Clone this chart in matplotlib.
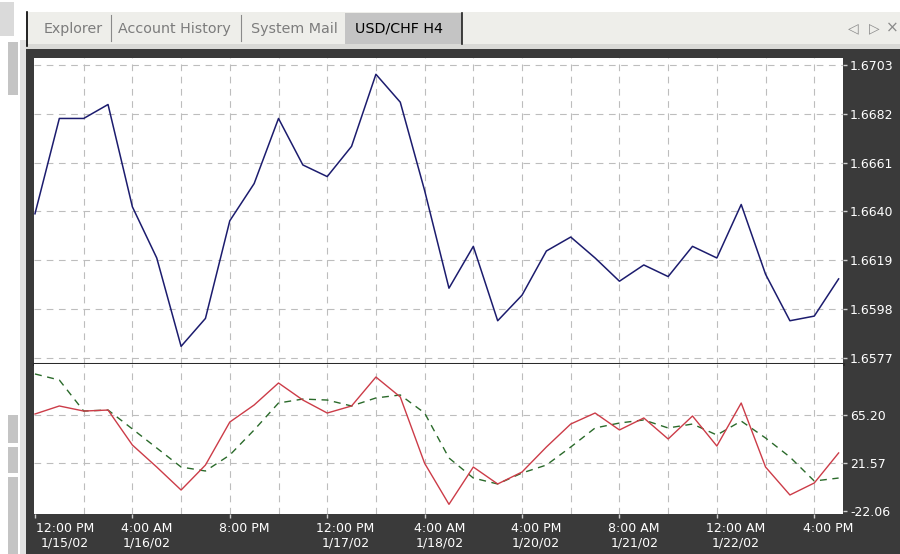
import matplotlib
matplotlib.use("Agg")
import matplotlib.pyplot as plt
from matplotlib.patches import Rectangle
from matplotlib.lines import Line2D

# ---- data ----
close = [1.6639, 1.6680, 1.6680, 1.6686, 1.6642, 1.6620, 1.6582, 1.6594, 1.6636, 1.6652,
         1.6680, 1.6660, 1.6655, 1.6668, 1.6699, 1.6687, 1.6649, 1.6607, 1.6625, 1.6593,
         1.6604, 1.6623, 1.6629, 1.6620, 1.6610, 1.6617, 1.6612, 1.6625, 1.6620, 1.6643,
         1.6613, 1.6593, 1.6595, 1.6611]
osc_main = [66.1, 73.4, 68.8, 69.7, 37.9, 17.9, -3.0, 19.7, 58.8, 74.3,
            94.3, 78.8, 67.0, 73.4, 99.7, 81.6, 21.3, -16.0, 17.9, 2.5,
            13.4, 36.1, 57.0, 67.0, 51.6, 62.5, 43.4, 64.3, 37.0, 76.1,
            17.9, -7.5, 3.4, 30.7]
osc_signal = [102.5, 97.0, 68.8, 69.7, 52.5, 35.2, 17.9, 14.3, 28.8, 51.6,
              76.1, 79.7, 78.8, 73.4, 80.7, 83.4, 67.0, 26.1, 7.9, 2.5,
              12.5, 19.7, 36.1, 53.4, 57.9, 60.7, 53.4, 57.0, 47.0, 59.7,
              44.3, 27.0, 5.2, 7.9]

price_ticks = [1.6577, 1.6598, 1.6619, 1.6640, 1.6661, 1.6682, 1.6703]
osc_ticks = [-22.06, 21.57, 65.20]
label_bars = [0, 4, 8, 12, 16, 20, 24, 28, 32]
time_labels = ["12:00 PM\n1/15/02", "4:00 AM\n1/16/02", "8:00 PM", "12:00 PM\n1/17/02",
               "4:00 AM\n1/18/02", "4:00 PM\n1/20/02", "8:00 AM\n1/21/02",
               "12:00 AM\n1/22/02", "4:00 PM"]
tab_names = ["Explorer", "Account History", "System Mail"]
active_tab = "USD/CHF H4"

W, H = 900, 554
FRAME = "#3a3a3a"
GRID = "#bdbdbd"
plt.rcParams['font.family'] = ['DejaVu Sans']

fig = plt.figure(figsize=(W / 100, H / 100), dpi=100)
fig.patch.set_facecolor("white")


def box(x0, y0, x1, y1, color, z=-5):
    # rectangle in screen pixels (top-left origin)
    fig.add_artist(Rectangle((x0 / W, 1 - y1 / H), (x1 - x0) / W, (y1 - y0) / H,
                             transform=fig.transFigure, facecolor=color,
                             edgecolor="none", zorder=z))


def vline(x, y0, y1, color, lw=1.0):
    fig.add_artist(Line2D([x / W, x / W], [1 - y0 / H, 1 - y1 / H],
                          transform=fig.transFigure, color=color, lw=lw, zorder=-4))


# window chrome
box(26, 12, 900, 44, "#eeeeea")
box(26, 44, 900, 49, "#d9d9d6")
box(26, 49, 900, 554, FRAME)
box(20, 40, 26, 554, "#e2e2e2")
box(8, 42, 18, 95, "#c4c4c4")
box(8, 415, 18, 443, "#c4c4c4")
box(8, 447, 18, 473, "#c4c4c4")
box(8, 477, 18, 554, "#c4c4c4")
box(0, 2, 14, 36, "#dadada")
box(345, 13, 462, 44, "#c4c4c4")
vline(26.5, 12, 46, "black", 1.2)
vline(462.5, 13, 44, "#202020", 1.2)
vline(110.5, 15, 41, "#8a8a8a", 0.8)
vline(241.5, 15, 41, "#8a8a8a", 0.8)

tab_x = [44, 118, 251]
for name, x in zip(tab_names, tab_x):
    fig.text(x / W, 1 - 29 / H, name, color="#7c7c7c", fontsize=10.3, va="center", ha="left")
fig.text(355 / W, 1 - 29 / H, active_tab, color="black", fontsize=10.3, va="center", ha="left")
fig.text(853 / W, 1 - 28 / H, "\u25c1", color="#8a8a8a", fontsize=10, va="center", ha="center")
fig.text(874 / W, 1 - 28 / H, "\u25b7", color="#8a8a8a", fontsize=10, va="center", ha="center")
fig.text(892 / W, 1 - 28 / H, "\u00d7", color="#8a8a8a", fontsize=11, va="center", ha="center")

# panels
ax1 = fig.add_axes([34 / W, 1 - 364 / H, (843 - 34) / W, (364 - 58) / H])
ax2 = fig.add_axes([34 / W, 1 - 514 / H, (843 - 34) / W, (514 - 364) / H])

bars = list(range(len(close)))
xmin, xmax = -0.04, 33.18

for ax in (ax1, ax2):
    ax.set_facecolor("white")
    ax.set_xlim(xmin, xmax)
    for s in ax.spines.values():
        s.set_visible(False)
    for b in range(2, 33, 2):
        ax.axvline(b, color=GRID, lw=0.8, dashes=(6, 5), zorder=1)
    ax.yaxis.tick_right()
    ax.tick_params(axis="y", colors="#cfcfcf", labelcolor="white", length=3,
                   width=1, pad=2, labelsize=9)

ax1.spines["bottom"].set_visible(True)
ax1.spines["bottom"].set_color("#2a2a2a")
ax1.spines["bottom"].set_linewidth(2.2)

# price panel
ax1.set_ylim(1.65744, 1.67060)
for v in price_ticks:
    ax1.axhline(v, color=GRID, lw=0.8, dashes=(6, 5), zorder=1)
ax1.plot(bars, close, color="#1c1c6e", lw=1.1, zorder=3)
ax1.set_yticks(price_ticks)
ax1.set_yticklabels([f"{v:.4f}" for v in price_ticks])
ax1.set_xticks([])

# oscillator panel
ax2.set_ylim(-24.79, 111.56)
for v in osc_ticks[1:]:
    ax2.axhline(v, color=GRID, lw=0.8, dashes=(6, 5), zorder=1)
ax2.plot(bars, osc_signal, color="#2a6a2a", lw=1.0, dashes=(5, 4), zorder=3)
ax2.plot(bars, osc_main, color="#cc3c48", lw=1.0, zorder=4)
ax2.set_yticks(osc_ticks)
ax2.set_yticklabels([f"{v:.2f}" for v in osc_ticks])
ax2.set_xticks(label_bars)
ax2.set_xticklabels([])
ax2.tick_params(axis="x", colors="#cfcfcf", length=3, width=1)

for i, (b, lab) in enumerate(zip(label_bars, time_labels)):
    dx = 1 if i == 0 else -11
    ax2.annotate(lab, xy=(b, 0), xycoords=("data", "axes fraction"),
                 xytext=(dx, -8), textcoords="offset pixels",
                 ha="left", va="top", multialignment="center",
                 color="white", fontsize=9, linespacing=1.15,
                 annotation_clip=False)

fig.savefig("out.png", dpi=100, facecolor=fig.get_facecolor())
